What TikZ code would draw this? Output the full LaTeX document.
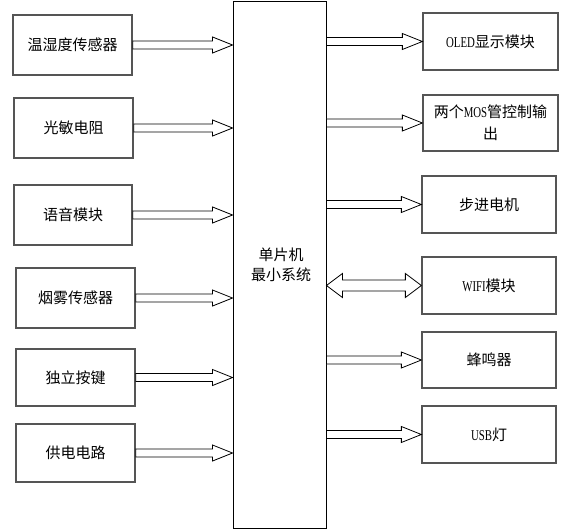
\documentclass[tikz,border=0pt]{standalone}
\usepackage{graphicx}
\usepackage{fontspec}
\setmainfont{Noto Sans CJK SC}
\newfontfamily\latfont{Liberation Serif}
\usetikzlibrary{calc}
\newcommand{\entxt}[1]{\scalebox{0.72}[1]{\latfont\fontsize{15pt}{20pt}\selectfont #1}}
\newcommand{\barrow}[2]{%
  \draw[arr] let \p1=#1, \p2=#2 in
    (\x1,\y1+4pt) -- (\x2-20pt,\y1+4pt) -- (\x2-20pt,\y1+8pt) -- (\x2,\y1)
    -- (\x2-20pt,\y1-8pt) -- (\x2-20pt,\y1-4pt) -- (\x1,\y1-4pt) -- cycle;}
\newcommand{\dbarrow}[2]{%
  \draw[arr] let \p1=#1, \p2=#2 in
    (\x1,\y1) -- (\x1+16pt,\y1+12pt) -- (\x1+16pt,\y1+5.5pt) -- (\x2-16pt,\y1+5.5pt)
    -- (\x2-16pt,\y1+12pt) -- (\x2,\y1) -- (\x2-16pt,\y1-12pt) -- (\x2-16pt,\y1-5.5pt)
    -- (\x1+16pt,\y1-5.5pt) -- (\x1+16pt,\y1-12pt) -- cycle;}
\begin{document}
\begin{tikzpicture}[x=1pt,y=-1pt,
  box/.style={draw={rgb,255:red,85;green,85;blue,85}, line width=1.3pt, rectangle, inner sep=0pt,
    align=center, font=\fontsize{15pt}{22pt}\selectfont},
  mcubox/.style={draw=black, line width=0.9pt, rectangle, inner sep=0pt, minimum width=93pt, minimum height=527pt},
  arr/.style={draw=black, line width=0.8pt, fill=white, line join=miter}]
\useasboundingbox (0,0) rectangle (578,532);
\fill[white] (0,0) rectangle (578,532);
% central box
\node[mcubox] (mcu) at (279.5,264.5) {};
\node[align=center, font=\fontsize{15pt}{20pt}\selectfont, inner sep=0pt] (mcutext) at (281,265) {单片机\\最小系统};
% left boxes
\node[box, minimum width=119pt, minimum height=60pt] (l1) at (72.5,45) {温湿度传感器};
\node[box, minimum width=119pt, minimum height=60pt] (l2) at (73.5,128) {光敏电阻};
\node[box, minimum width=118pt, minimum height=60pt] (l3) at (73,215) {语音模块};
\node[box, minimum width=119pt, minimum height=60pt] (l4) at (75.5,298) {烟雾传感器};
\node[box, minimum width=119pt, minimum height=57pt] (l5) at (75.5,377.5) {独立按键};
\node[box, minimum width=119pt, minimum height=58pt] (l6) at (75.5,453) {供电电路};
% right boxes
\node[box, minimum width=135pt, minimum height=57pt] (r1) at (490.5,41.5) {\entxt{OLED}显示模块};
\node[box, minimum width=135pt, minimum height=56pt] (r2) at (490.5,123) {两个\entxt{MOS}管控制输\\出};
\node[box, minimum width=134pt, minimum height=57pt] (r3) at (489,204.5) {步进电机};
\node[box, minimum width=134pt, minimum height=57pt] (r4) at (489,285.5) {\entxt{WIFI}模块};
\node[box, minimum width=134pt, minimum height=56pt] (r5) at (489,360) {蜂鸣器};
\node[box, minimum width=134pt, minimum height=57pt] (r6) at (489,434.5) {\entxt{USB}灯};
% left arrows
\foreach \b in {l1,l2,l3,l4,l5,l6}{\barrow{(\b.east)}{(\b.east -| mcu.west)}}
% right arrows
\foreach \b in {r1,r2,r3,r5,r6}{\barrow{(\b.west -| mcu.east)}{(\b.west)}}
\dbarrow{(r4.west -| mcu.east)}{(r4.west)}
\end{tikzpicture}
\end{document}
